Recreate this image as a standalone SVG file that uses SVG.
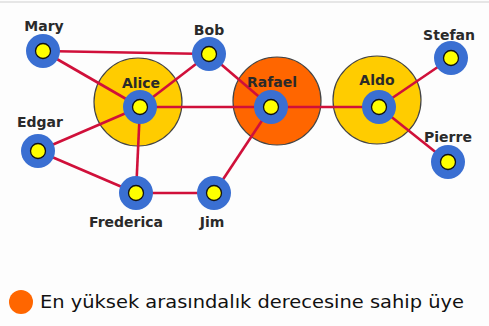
<svg xmlns="http://www.w3.org/2000/svg" width="489" height="326" viewBox="0 0 489 326">
  <style>
    .hub { stroke: #444; stroke-width: 1.2; }
    .ring { fill: #3a6fd2; }
    .core { fill: #ffff00; stroke: #111; stroke-width: 1.3; }
    .edge { stroke: #d0103a; stroke-width: 2.6; fill: none; }
    .lbl { font-family: "DejaVu Sans", Verdana, sans-serif; font-size: 14px; font-weight: bold; fill: #2a2a2a; text-anchor: middle; }
    .legend { font-family: "DejaVu Sans", Verdana, sans-serif; font-size: 17px; fill: #111; }
  </style>
  <defs>
    <g id="dot">
      <circle class="ring" r="17"/>
      <circle class="core" r="7.5"/>
    </g>
  </defs>
  <rect width="489" height="326" fill="#fdfdfd"/>
  <line x1="0" y1="2" x2="489" y2="2" stroke="#e6e6e6" stroke-width="2"/>

  <!-- highlighted neighbourhoods -->
  <g id="halos">
    <circle class="hub" cx="138" cy="102" r="44" fill="#ffcc00"/>
    <circle class="hub" cx="277" cy="101" r="44" fill="#ff6600"/>
    <circle class="hub" cx="377" cy="100" r="44" fill="#ffcc00"/>
  </g>

  <g id="edges">
    <line class="edge" x1="43" y1="51" x2="209" y2="54"/>
    <line class="edge" x1="43" y1="51" x2="140" y2="107"/>
    <line class="edge" x1="209" y1="54" x2="140" y2="107"/>
    <line class="edge" x1="209" y1="54" x2="271" y2="107"/>
    <line class="edge" x1="140" y1="107" x2="271" y2="107"/>
    <line class="edge" x1="140" y1="107" x2="38" y2="151"/>
    <line class="edge" x1="140" y1="107" x2="136" y2="193"/>
    <line class="edge" x1="38" y1="151" x2="136" y2="193"/>
    <line class="edge" x1="136" y1="193" x2="214" y2="193"/>
    <line class="edge" x1="214" y1="193" x2="271" y2="107"/>
    <line class="edge" x1="271" y1="107" x2="379" y2="107"/>
    <line class="edge" x1="379" y1="107" x2="451" y2="58"/>
    <line class="edge" x1="379" y1="107" x2="448" y2="162"/>
  </g>

  <g id="mary"><use href="#dot" x="43" y="51"/><text class="lbl" x="44" y="31">Mary</text></g>
  <g id="bob"><use href="#dot" x="209" y="54"/><text class="lbl" x="209" y="35">Bob</text></g>
  <g id="alice"><use href="#dot" x="140" y="107"/><text class="lbl" x="141" y="88">Alice</text></g>
  <g id="rafael"><use href="#dot" x="271" y="107"/><text class="lbl" x="272" y="87">Rafael</text></g>
  <g id="aldo"><use href="#dot" x="379" y="107"/><text class="lbl" x="377" y="85">Aldo</text></g>
  <g id="stefan"><use href="#dot" x="451" y="58"/><text class="lbl" x="449" y="40">Stefan</text></g>
  <g id="pierre"><use href="#dot" x="448" y="162"/><text class="lbl" x="448" y="142">Pierre</text></g>
  <g id="edgar"><use href="#dot" x="38" y="151"/><text class="lbl" x="40" y="127">Edgar</text></g>
  <g id="frederica"><use href="#dot" x="136" y="193"/><text class="lbl" x="126" y="227">Frederica</text></g>
  <g id="jim"><use href="#dot" x="214" y="193"/><text class="lbl" x="212" y="227">Jim</text></g>

  <g id="legend">
    <circle cx="21" cy="302" r="12" fill="#ff6600"/>
    <text class="legend" x="40" y="308" textLength="424" lengthAdjust="spacingAndGlyphs">En yüksek arasındalık derecesine sahip üye</text>
  </g>
</svg>
